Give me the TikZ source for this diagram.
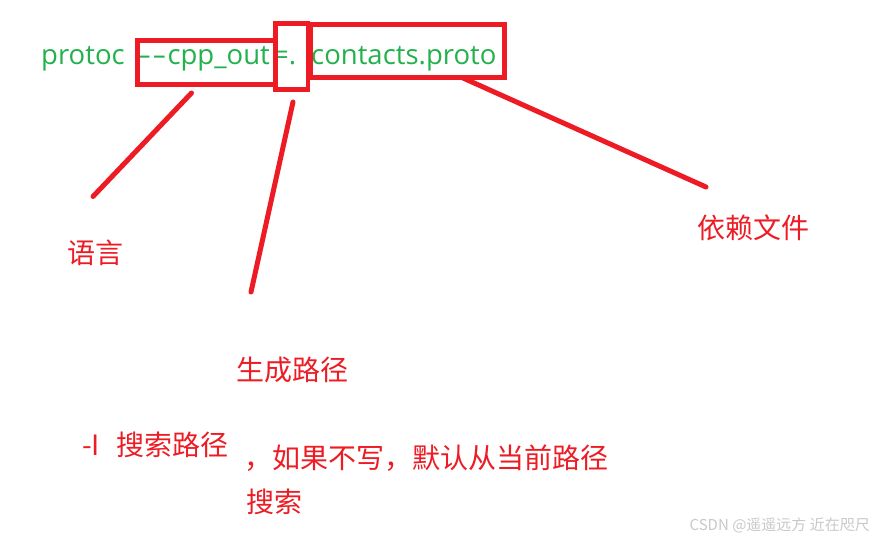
\documentclass[tikz,border=0pt]{standalone}
\usepackage{fontspec}
\setmainfont{Noto Sans CJK SC}
\newfontfamily\cmdfont{Open Sans}
\usetikzlibrary{positioning}

\definecolor{paintred}{HTML}{ED1C24}
\definecolor{paintgreen}{HTML}{22B14C}
\definecolor{markgray}{HTML}{C8C8C8}

\newcommand{\widehyph}{\scalebox{1.6}[1]{-}}

\begin{document}
\begin{tikzpicture}[x=1pt,y=-1pt,
                    cmd part/.style={text=paintgreen,inner sep=0pt,anchor=base west,
                                     font=\cmdfont\fontsize{27.5}{31}\selectfont},
                    mark box/.style={draw=paintred,line width=4.5pt,inner sep=0pt},
                    note/.style={text=paintred,inner sep=0pt,anchor=base west,
                                 font=\fontsize{28}{32}\selectfont},
                    pointer/.style={draw=paintred,line width=5pt,line cap=round}]
        \useasboundingbox (0,0) rectangle (875,540);

        % Define command line
        \node[cmd part] (prog) at (41,65) {protoc};
        \node[cmd part] (lang arg) at (137,65) {\widehyph\kern1pt\widehyph\kern1pt cpp\_out};
        \node[cmd part] (path arg) at (273,65) {=.};
        \node[cmd part] (file arg) at (311,65) {contacts.proto};

        % Define boxes
        \node[mark box,minimum width=138pt,minimum height=44pt] (lang box) at (206.5,62.5) {};
        \node[mark box,minimum width=32.5pt,minimum height=66pt] (path box) at (291.75,56.5) {};
        \node[mark box,minimum width=194pt,minimum height=53pt] (file box) at (407.5,51) {};

        % Define labels
        \node[note] (lang) at (67,263) {语言};
        \node[note] (out path) at (236,380) {生成路径};
        \node[note] (dep file) at (697,238) {依赖文件};
        \node[note] (search) at (82,455) {-I\hspace{16pt}搜索路径};
        \node[note] (remark) at (244,468) {，如果不写，默认从当前路径};
        \node[note] (remark2) at (246,512) {搜索};
        \node[text=markgray,inner sep=0pt,anchor=base east,
              font=\fontsize{15}{18}\selectfont] (mark) at (870,530) {CSDN @遥遥远方 近在咫尺};

        % Define pointer ends
        \coordinate (l1) at (191.5,93);
        \coordinate (l2) at (93,196.5);
        \coordinate (p1) at (293,102);
        \coordinate (p2) at (251,292);
        \coordinate (f1) at (463,78);
        \coordinate (f2) at (706,187);

        % Draw pointers
        \path[pointer]
            (l1) edge (l2)
            (p1) edge (p2)
            (f1) edge (f2);

        \end{tikzpicture}
\end{document}
